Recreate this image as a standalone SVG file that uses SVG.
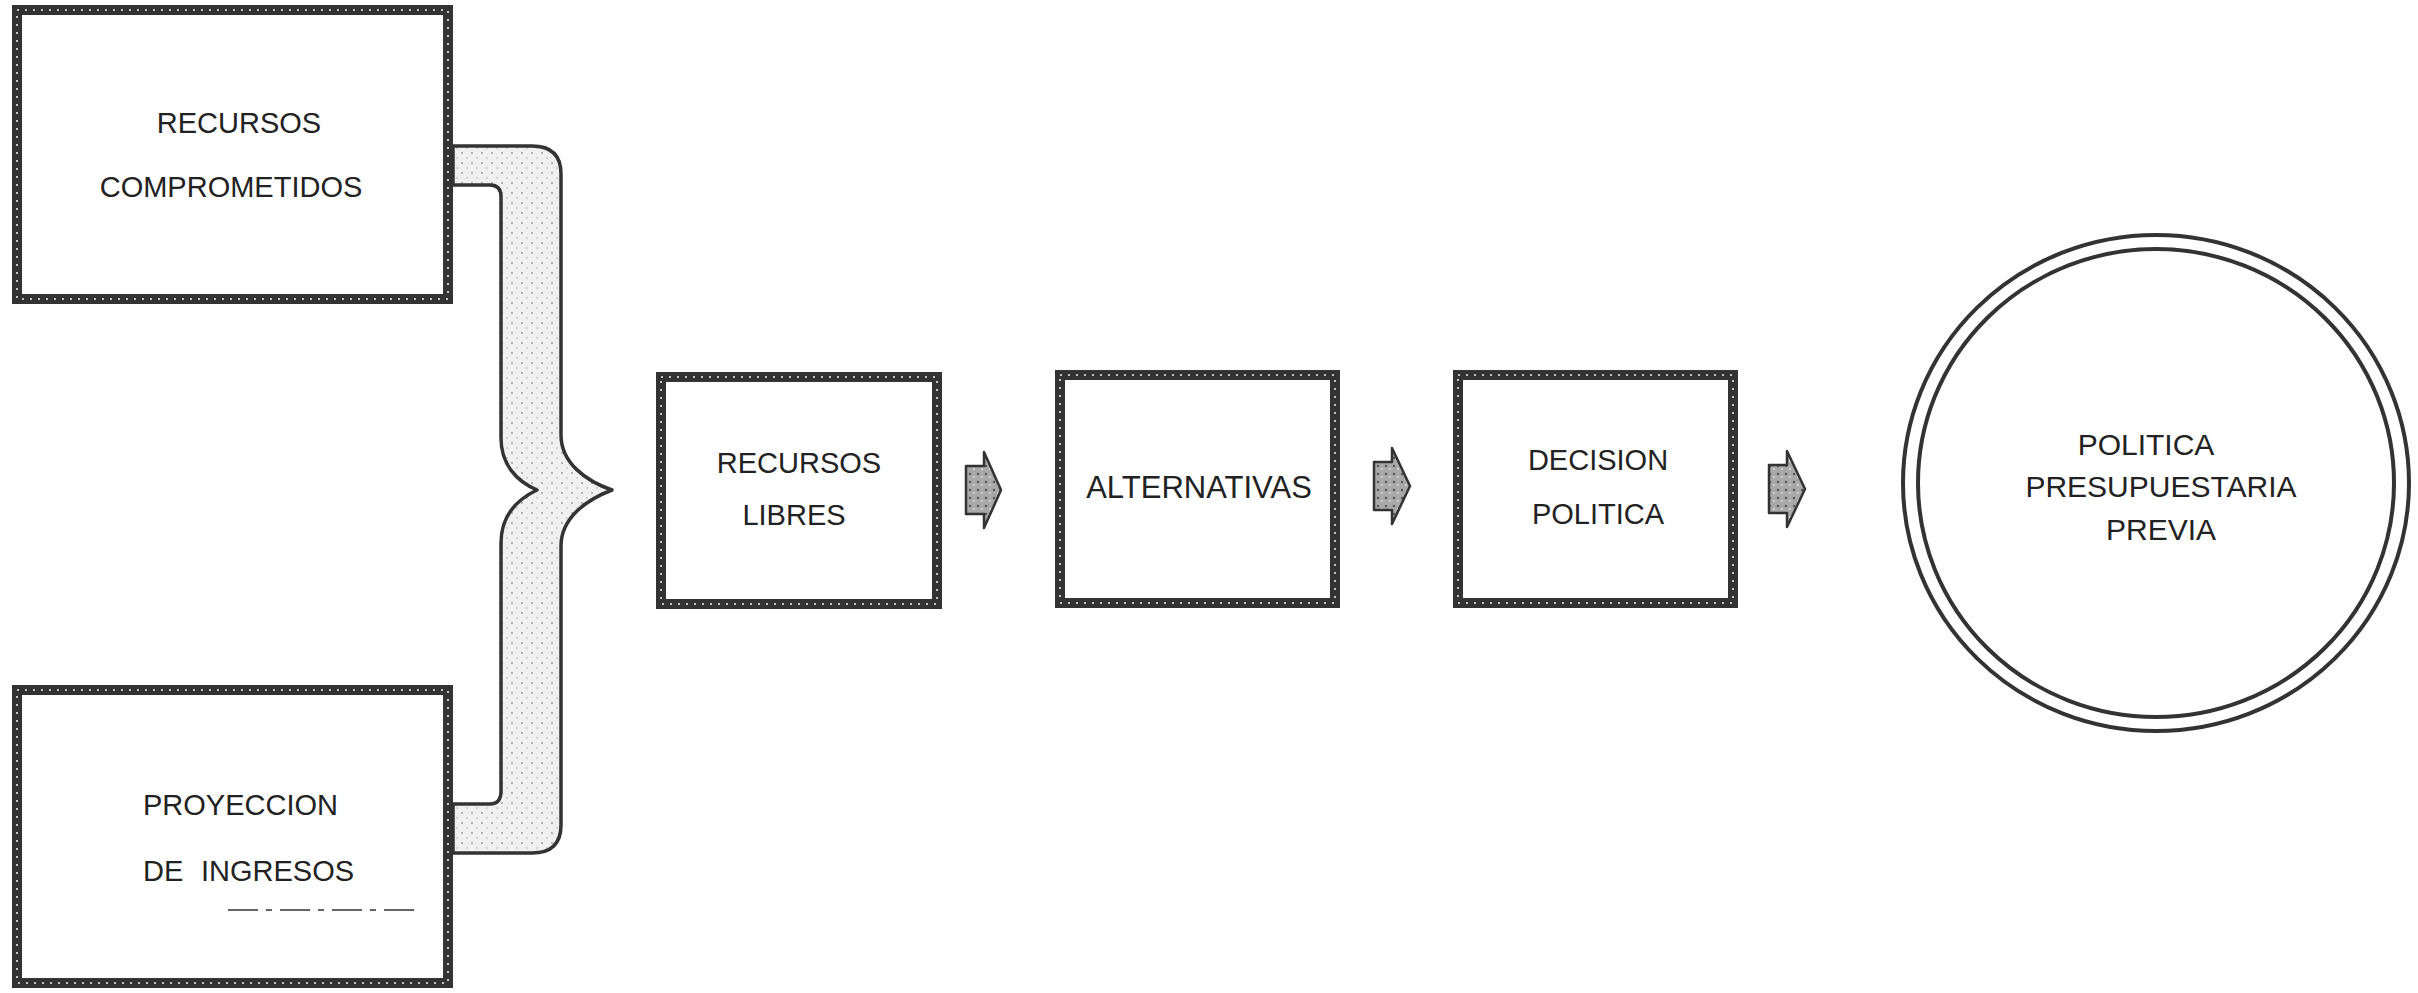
<svg xmlns="http://www.w3.org/2000/svg" width="2418" height="993" viewBox="0 0 2418 993">
<defs>
<pattern id="stip" width="10" height="10" patternUnits="userSpaceOnUse">
<rect width="10" height="10" fill="#f0f0f0"/>
<circle cx="2" cy="3" r="0.9" fill="#999"/>
<circle cx="7" cy="8" r="0.8" fill="#aaa"/>
</pattern>
<pattern id="stipDark" width="8" height="8" patternUnits="userSpaceOnUse">
<rect width="8" height="8" fill="#a8a8a8"/>
<circle cx="2" cy="2" r="1.2" fill="#555"/>
<circle cx="6" cy="5" r="1" fill="#e0e0e0"/>
</pattern>
<style>
.box{fill:#fff;stroke:#333;stroke-width:10}
.tex{fill:none;stroke:#fff;stroke-width:2;stroke-dasharray:2 6;opacity:.7}
.lbl{font-family:"Liberation Sans",Arial,sans-serif;font-size:29px;fill:#222;text-anchor:middle}
.lft{text-anchor:start}
.big{font-size:31px}
.cir{font-size:30px}
.brace{fill:url(#stip);stroke:#333;stroke-width:3.5;stroke-linejoin:round}
.arr{fill:url(#stipDark);stroke:#333;stroke-width:2.5;stroke-linejoin:round}
.ring{fill:none;stroke:#333;stroke-width:4}
</style>
</defs>
<rect width="2418" height="993" fill="#fff"/>
<g id="connectors">
<path class="brace" d="M453,146 L532,146 Q561,146 561,174 L561,435 C561,463 586,481 612,490 C586,500 561,518 561,546 L561,825 Q561,853 532,853 L453,853 L453,804 L490,804 Q501,804 501,791 L501,543 C501,517 516,500 537,490 C516,481 501,464 501,438 L501,197 Q501,185 490,185 L453,185 Z"/>
<path class="arr" d="M966,466 L984,466 L984,452 L1001,490 L984,528 L984,514 L966,514 Z"/>
<path class="arr" d="M1374,462 L1392,462 L1392,448 L1410,486 L1392,524 L1392,510 L1374,510 Z"/>
<path class="arr" d="M1769,465 L1787,465 L1787,451 L1805,489 L1787,527 L1787,513 L1769,513 Z"/>
</g>
<g id="recursos-comprometidos">
<rect class="box" x="17" y="10" width="431" height="289"/>
<rect class="tex" x="17" y="10" width="431" height="289"/>
<text class="lbl" x="239" y="133">RECURSOS</text>
<text class="lbl" x="231" y="197">COMPROMETIDOS</text>
</g>
<g id="proyeccion-ingresos">
<rect class="box" x="17" y="690" width="431" height="293"/>
<rect class="tex" x="17" y="690" width="431" height="293"/>
<text class="lbl lft" x="143" y="815">PROYECCION</text>
<text class="lbl lft" x="143" y="881">DE<tspan x="201">INGRESOS</tspan></text>
<line x1="228" y1="910" x2="420" y2="910" stroke="#666" stroke-width="2" stroke-dasharray="30 8 6 8"/>
</g>
<g id="recursos-libres">
<rect class="box" x="661" y="377" width="276" height="227"/>
<rect class="tex" x="661" y="377" width="276" height="227"/>
<text class="lbl" x="799" y="473">RECURSOS</text>
<text class="lbl" x="794" y="525">LIBRES</text>
</g>
<g id="alternativas">
<rect class="box" x="1060" y="375" width="275" height="228"/>
<rect class="tex" x="1060" y="375" width="275" height="228"/>
<text class="lbl big" x="1199" y="498">ALTERNATIVAS</text>
</g>
<g id="decision-politica">
<rect class="box" x="1458" y="375" width="275" height="228"/>
<rect class="tex" x="1458" y="375" width="275" height="228"/>
<text class="lbl" x="1598" y="470">DECISION</text>
<text class="lbl" x="1598" y="524">POLITICA</text>
</g>
<g id="politica-presupuestaria">
<ellipse class="ring" cx="2156" cy="483" rx="253" ry="248"/>
<ellipse class="ring" cx="2156" cy="483" rx="238" ry="234"/>
<text class="lbl cir" x="2146" y="455">POLITICA</text>
<text class="lbl cir" x="2161" y="497">PRESUPUESTARIA</text>
<text class="lbl cir" x="2161" y="540">PREVIA</text>
</g>
</svg>
